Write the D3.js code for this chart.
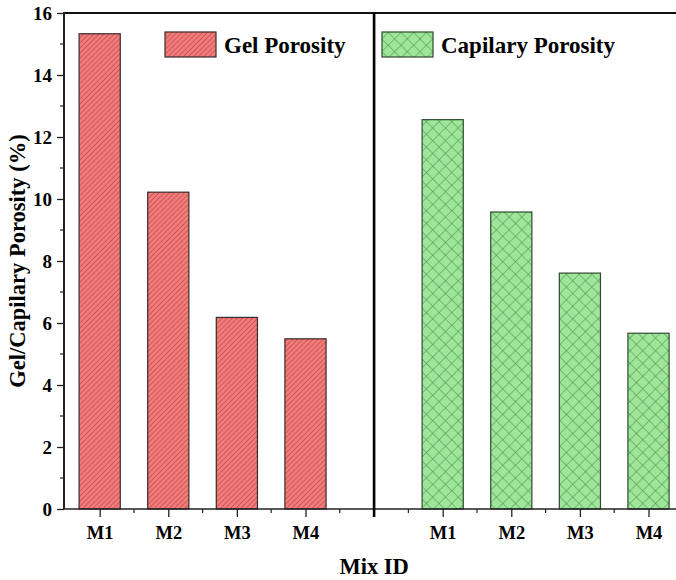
<!DOCTYPE html>
<html>
<head>
<meta charset="utf-8">
<script src="https://cdn.jsdelivr.net/npm/d3@7/dist/d3.min.js"></script>
<style>
  html, body { margin: 0; padding: 0; background: #fff; }
  svg { display: block; }
  svg text { font-family: "Liberation Serif", "Times New Roman", serif; }
</style>
</head>
<body>
<svg id="chart" width="676" height="580"></svg>
<script>
// Mix designs and measured porosities (%)
const categories = ["M1", "M2", "M3", "M4"];
const gelPorosity = [15.33, 10.22, 6.18, 5.49];
const capilaryPorosity = [12.56, 9.58, 7.61, 5.67];
const yTicks = [0, 2, 4, 6, 8, 10, 12, 14, 16];
const seriesNames = ["Gel Porosity", "Capilary Porosity"];

const FONT = "Liberation Serif, Times New Roman, serif";
const svg = d3.select("#chart");

// Both groups share one continuous x axis: gel at 1-4, divider at 5, capilary at 6-9
const x = d3.scaleLinear().domain([0.48, 9.5]).range([64, 682.8]);
const y = d3.scaleLinear().domain([0, 16]).range([509, 13]);
const barW = (x(2) - x(1)) * 0.6;

// Fill patterns
const defs = svg.append("defs");
const hatch = defs.append("pattern")
  .attr("id", "hatchRed").attr("patternUnits", "userSpaceOnUse")
  .attr("width", 3.6).attr("height", 3.6)
  .attr("patternTransform", "rotate(45)");
hatch.append("rect").attr("width", 3.6).attr("height", 3.6).attr("fill", "#f27c7c");
hatch.append("line").attr("x1", 0).attr("y1", 0).attr("x2", 0).attr("y2", 3.6)
  .attr("stroke", "#bd4a4a").attr("stroke-width", 1.4);

const cross = defs.append("pattern")
  .attr("id", "crossGreen").attr("patternUnits", "userSpaceOnUse")
  .attr("width", 9).attr("height", 9)
  .attr("patternTransform", "rotate(45)");
cross.append("rect").attr("width", 9).attr("height", 9).attr("fill", "#9de69a");
cross.append("line").attr("x1", 0).attr("y1", 0).attr("x2", 0).attr("y2", 9)
  .attr("stroke", "#3f7f3f").attr("stroke-width", 0.9);
cross.append("line").attr("x1", 0).attr("y1", 0).attr("x2", 9).attr("y2", 0)
  .attr("stroke", "#3f7f3f").attr("stroke-width", 0.9);

// Bars
const gelData = categories.map((c, i) => ({ pos: i + 1, value: gelPorosity[i] }));
const capData = categories.map((c, i) => ({ pos: i + 6, value: capilaryPorosity[i] }));

svg.append("g").selectAll("rect").data(gelData).join("rect")
  .attr("x", d => x(d.pos) - barW / 2)
  .attr("y", d => y(d.value))
  .attr("width", barW)
  .attr("height", d => y(0) - y(d.value))
  .attr("fill", "url(#hatchRed)")
  .attr("stroke", "#3a2a2a").attr("stroke-width", 1.2);

svg.append("g").selectAll("rect").data(capData).join("rect")
  .attr("x", d => x(d.pos) - barW / 2)
  .attr("y", d => y(d.value))
  .attr("width", barW)
  .attr("height", d => y(0) - y(d.value))
  .attr("fill", "url(#crossGreen)")
  .attr("stroke", "#2f4a2f").attr("stroke-width", 1.2);

// Y axis
const yAxis = d3.axisLeft(y).tickValues(yTicks).tickSize(7).tickPadding(5);
const gy = svg.append("g").attr("transform", `translate(${x.range()[0]},0)`).call(yAxis)
  .attr("font-family", FONT);
gy.select(".domain").remove();
gy.selectAll(".tick line").attr("stroke", "#222").attr("stroke-width", 1.3);
gy.selectAll(".tick text").attr("font-size", 19).attr("font-weight", "bold").attr("fill", "#000");
// minor y ticks
svg.append("g").selectAll("line").data(d3.range(1, 16, 2)).join("line")
  .attr("x1", x.range()[0] - 4).attr("x2", x.range()[0])
  .attr("y1", d => y(d)).attr("y2", d => y(d))
  .attr("stroke", "#222").attr("stroke-width", 1.2);

// X axis: labelled ticks at each mix, minor ticks between
const tickPos = [1, 2, 3, 4, 6, 7, 8, 9];
const tickLabels = categories.concat(categories);
const xAxis = d3.axisBottom(x).tickValues(tickPos)
  .tickFormat((d, i) => tickLabels[i]).tickSize(8).tickPadding(9);
const gx = svg.append("g").attr("transform", `translate(0,${y(0)})`).call(xAxis)
  .attr("font-family", FONT);
gx.select(".domain").remove();
gx.selectAll(".tick line").attr("stroke", "#222").attr("stroke-width", 1.3);
gx.selectAll(".tick text").attr("font-size", 18.5).attr("font-weight", "bold").attr("fill", "#000");
svg.append("g").selectAll("line").data(d3.range(1.5, 9.5, 1).filter(v => v !== 5)).join("line")
  .attr("x1", d => x(d)).attr("x2", d => x(d))
  .attr("y1", y(0)).attr("y2", y(0) + 4)
  .attr("stroke", "#222").attr("stroke-width", 1.2);

// Frame lines
svg.append("line").attr("x1", x.range()[0]).attr("x2", 676)
  .attr("y1", y(0)).attr("y2", y(0)).attr("stroke", "#222").attr("stroke-width", 1.5);
svg.append("line").attr("x1", x.range()[0]).attr("x2", 676)
  .attr("y1", y(16)).attr("y2", y(16)).attr("stroke", "#111").attr("stroke-width", 2.2);
svg.append("line").attr("x1", x.range()[0]).attr("x2", x.range()[0])
  .attr("y1", y(16) - 1).attr("y2", y(0)).attr("stroke", "#222").attr("stroke-width", 2);
// Group divider
svg.append("line").attr("x1", x(5)).attr("x2", x(5))
  .attr("y1", y(16)).attr("y2", y(0) + 8).attr("stroke", "#000").attr("stroke-width", 2.6);

// Axis titles
svg.append("text")
  .attr("transform", `translate(25,${(y(0) + y(16)) / 2}) rotate(-90)`)
  .attr("text-anchor", "middle").attr("font-size", 22.5).attr("font-weight", "bold")
  .text("Gel/Capilary Porosity (%)");
svg.append("text")
  .attr("x", x(5)).attr("y", 574)
  .attr("text-anchor", "middle").attr("font-size", 22.5).attr("font-weight", "bold")
  .text("Mix ID");

// Legend
const legend = [
  { name: seriesNames[0], fill: "url(#hatchRed)", stroke: "#3a2a2a", sx: 165 },
  { name: seriesNames[1], fill: "url(#crossGreen)", stroke: "#2f4a2f", sx: 382 }
];
const lg = svg.append("g").selectAll("g").data(legend).join("g");
lg.append("rect")
  .attr("x", d => d.sx).attr("y", 32).attr("width", 51).attr("height", 25)
  .attr("fill", d => d.fill).attr("stroke", d => d.stroke).attr("stroke-width", 1.2);
lg.append("text")
  .attr("x", d => d.sx + 59).attr("y", 53)
  .attr("font-size", 23).attr("font-weight", "bold")
  .text(d => d.name);
</script>
</body>
</html>
